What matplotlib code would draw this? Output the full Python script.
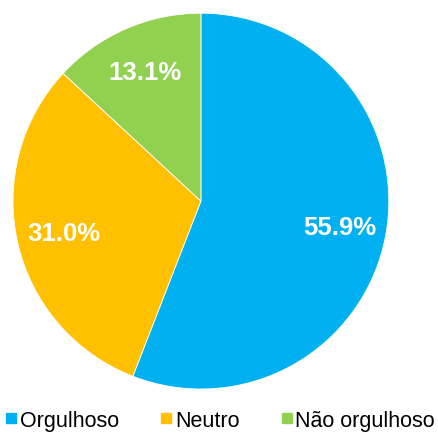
import matplotlib
matplotlib.use("Agg")
import matplotlib.pyplot as plt
from matplotlib.lines import Line2D

labels = ["Orgulhoso", "Neutro", "Não orgulhoso"]
values = [55.9, 31.0, 13.1]
colors = ["#00B0F0", "#FFC000", "#92D050"]

plt.rcParams["font.family"] = ["Liberation Sans", "DejaVu Sans"]

fig = plt.figure(figsize=(4.38, 4.35), dpi=100)
ax = fig.add_axes([0.0297, 0.1034, 0.858, 0.864])

wedges, texts, autotexts = ax.pie(
    values, colors=colors, startangle=90, counterclock=False,
    autopct="%.1f%%", pctdistance=0.75,
    wedgeprops=dict(linewidth=0.6, edgecolor="white"),
    textprops=dict(color="white", fontsize=18.5, fontweight="bold"),
)
ax.set_xlim(-1, 1)
ax.set_ylim(-1, 1)
ax.set_aspect("equal")

handles = [Line2D([0], [0], marker="s", linestyle="none", markersize=7,
                  markerfacecolor=c, markeredgecolor=c) for c in colors]
fig.legend(handles, labels, loc="center", bbox_to_anchor=(0.503, 0.032),
           ncol=3, frameon=False, fontsize=15.5, handlelength=0.5,
           handletextpad=0.15, columnspacing=1.95, borderpad=0, borderaxespad=0)

fig.savefig("out.png", dpi=100)
